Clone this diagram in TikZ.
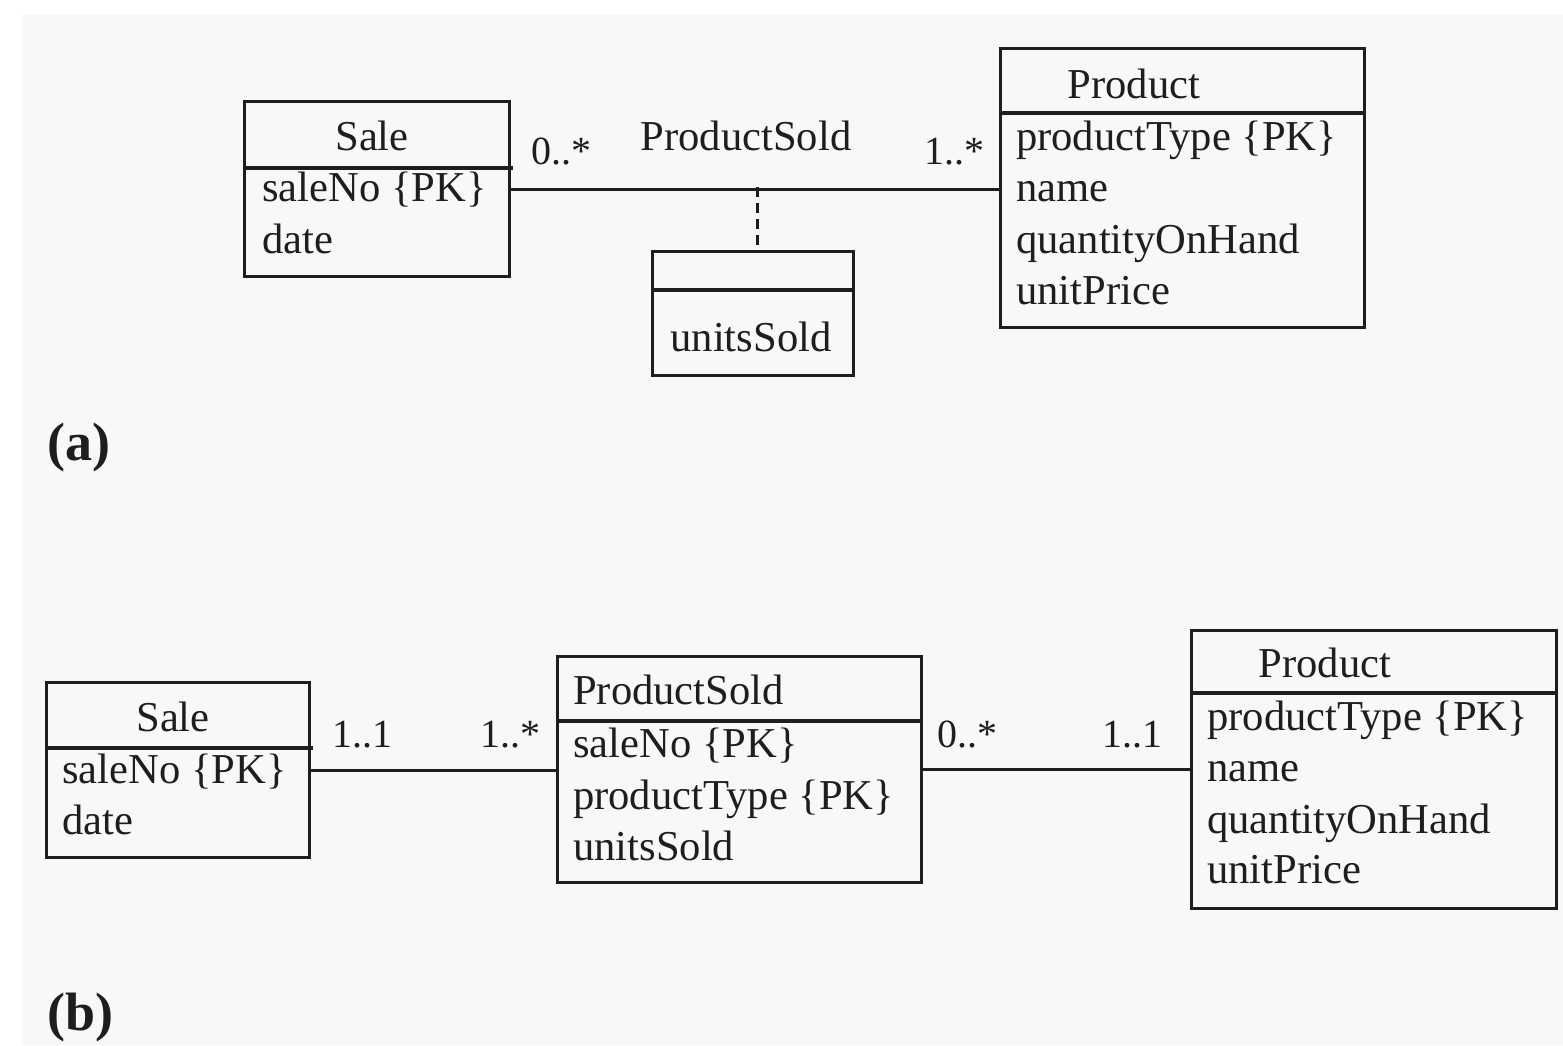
\documentclass[tikz,border=0pt]{standalone}
\usepackage{fontspec}
\setmainfont{Liberation Serif}
\definecolor{bggray}{RGB}{248,248,248}
\definecolor{ink}{RGB}{30,30,30}
\begin{document}
\begin{tikzpicture}[x=1pt,y=-1pt,
  box/.style={draw=ink, line width=3.2pt, rectangle, inner sep=0pt, anchor=north west},
  txt/.style={anchor=base west, inner sep=0pt, text=ink, font=\fontsize{42.6}{51}\selectfont},
  ctxt/.style={anchor=base, inner sep=0pt, text=ink, font=\fontsize{42.6}{51}\selectfont},
  mult/.style={anchor=base west, inner sep=0pt, text=ink, font=\fontsize{40}{48}\selectfont},
  lbl/.style={anchor=base west, inner sep=0pt, text=ink, font=\fontsize{54}{60}\selectfont\bfseries},
  conn/.style={draw=ink, line width=3pt},
  divline/.style={draw=ink, line width=3.2pt}]
\useasboundingbox (0,0) rectangle (1563,1045);
\fill[white] (0,0) rectangle (1563,1045);
\fill[bggray] (22,15) rectangle (1563,1045);

% ---------- (a) ----------
\node[box, minimum width=265pt, minimum height=175pt] (saleA) at (243,100) {};
\draw[divline] (243,168) -- (513,168);
\node[ctxt] (saleAt) at (372,150) {Sale};
\node[txt] (saleA1) at (262,201) {saleNo \{PK\}};
\node[txt] (saleA2) at (262,253) {date};

\node[box, minimum width=364pt, minimum height=279pt] (prodA) at (999,47) {};
\draw[divline] (999,113) -- (1365,113);
\node[ctxt] (prodAt) at (1134,98) {Product};
\node[txt] (prodA1) at (1016,150) {productType \{PK\}};
\node[txt] (prodA2) at (1016,201) {name};
\node[txt] (prodA3) at (1016,253) {quantityOnHand};
\node[txt] (prodA4) at (1016,304) {unitPrice};

\node[box, minimum width=201pt, minimum height=124pt] (assocA) at (651,250) {};
\draw[divline] (651,290) -- (854,290);
\node[ctxt] (assocA1) at (751,351) {unitsSold};

\draw[conn] (saleA.east) -- (saleA.east -| prodA.west);
\coordinate (mA) at (757,187);
\draw[conn, dash pattern=on 10pt off 6pt] (mA) -- (mA |- assocA.north);

\node[ctxt] (assocAname) at (746,150) {ProductSold};
\node[mult] (mA1) at (531,164) {0..*};
\node[mult] (mA2) at (924,164) {1..*};

\node[lbl] (labA) at (47,460) {(a)};

% ---------- (b) ----------
\node[box, minimum width=263pt, minimum height=175pt] (saleB) at (45,681) {};
\draw[divline] (45,748) -- (313,748);
\node[ctxt] (saleBt) at (173,731) {Sale};
\node[txt] (saleB1) at (62,783) {saleNo \{PK\}};
\node[txt] (saleB2) at (62,834) {date};

\node[box, minimum width=364pt, minimum height=226pt] (psB) at (556,655) {};
\draw[divline] (556,721) -- (922,721);
\node[txt] (psBt) at (573,704) {ProductSold};
\node[txt] (psB1) at (573,757) {saleNo \{PK\}};
\node[txt] (psB2) at (573,809) {productType \{PK\}};
\node[txt] (psB3) at (573,860) {unitsSold};

\node[box, minimum width=365pt, minimum height=278pt] (prodB) at (1190,629) {};
\draw[divline] (1190,693) -- (1557,693);
\node[ctxt] (prodBt) at (1325,677) {Product};
\node[txt] (prodB1) at (1207,730) {productType \{PK\}};
\node[txt] (prodB2) at (1207,781) {name};
\node[txt] (prodB3) at (1207,833) {quantityOnHand};
\node[txt] (prodB4) at (1207,883) {unitPrice};

\draw[conn] (saleB.east) -- (saleB.east -| psB.west);
\draw[conn] (psB.east) -- (psB.east -| prodB.west);

\node[mult] (mB1) at (332,747) {1..1};
\node[mult] (mB2) at (480,747) {1..*};
\node[mult] (mB3) at (937,747) {0..*};
\node[mult] (mB4) at (1102,747) {1..1};

\node[lbl] (labB) at (47,1030) {(b)};
\end{tikzpicture}
\end{document}
